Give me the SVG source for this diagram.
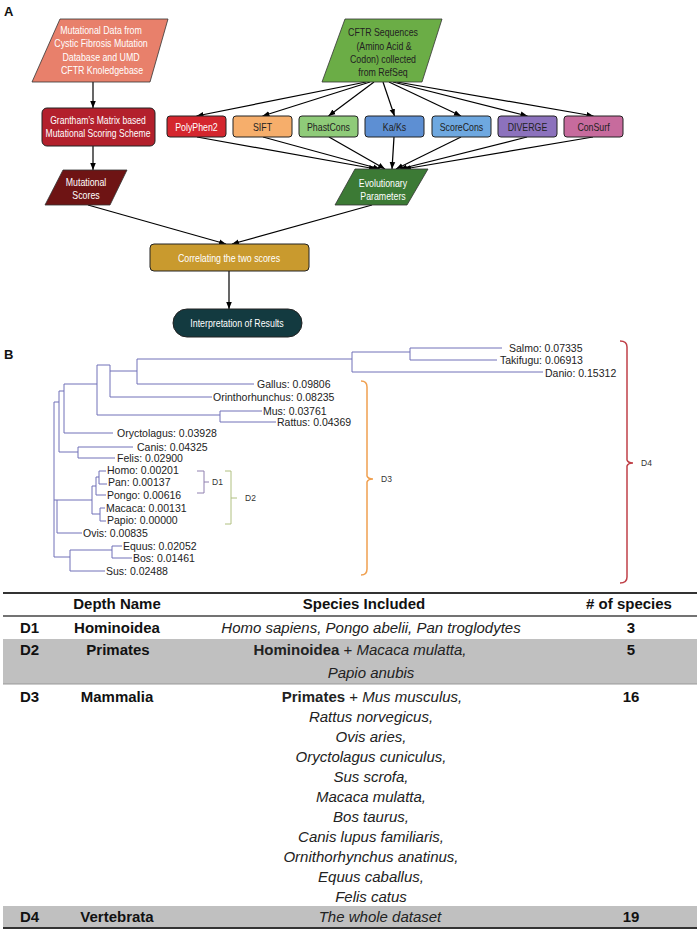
<svg xmlns="http://www.w3.org/2000/svg" width="697" height="935" viewBox="0 0 697 935">
<defs>
<marker id="ah" viewBox="0 0 10 10" refX="10" refY="5" markerWidth="7" markerHeight="7" orient="auto" markerUnits="userSpaceOnUse"><path d="M0,1 L10,5 L0,9 z" fill="#000"/></marker>
</defs>
<style>
.fc{font-family:"Liberation Sans",Arial,sans-serif;font-size:11px;text-anchor:middle}
.w{fill:#fff}
.k{fill:#222}
.shp{stroke:#333;stroke-width:0.8}
.box{stroke:#222;stroke-width:1}
.ar{stroke:#000;stroke-width:1.2;fill:none;marker-end:url(#ah)}
.tr{stroke:#7070B8;stroke-width:1;fill:none}
.lf{font-family:"Liberation Sans",Arial,sans-serif;font-size:10.5px;fill:#222}
.dl{font-family:"Liberation Sans",Arial,sans-serif;font-size:8.5px;fill:#333}
.lab{font-family:"Liberation Sans",Arial,sans-serif;font-size:13px;font-weight:bold;fill:#111}
.tb{font-family:"Liberation Sans",Arial,sans-serif;font-size:15px;font-weight:bold;fill:#111}
.ti{font-family:"Liberation Sans",Arial,sans-serif;font-size:15px;font-style:italic;fill:#222}
.c{text-anchor:middle}
</style>
<rect width="697" height="935" fill="#fff"/>
<text class="lab" x="4" y="16">A</text>
<text class="lab" x="4" y="359">B</text>

<g id="connectors">
<line class="ar" x1="93" y1="82" x2="93" y2="108"/>
<line class="ar" x1="93" y1="146" x2="93" y2="170"/>
<line class="ar" x1="366" y1="82" x2="196.5" y2="116"/>
<line class="ar" x1="370" y1="82" x2="262.5" y2="116"/>
<line class="ar" x1="374" y1="82" x2="328.5" y2="116"/>
<line class="ar" x1="383" y1="82" x2="394.5" y2="116"/>
<line class="ar" x1="389" y1="82" x2="461" y2="116"/>
<line class="ar" x1="393" y1="82" x2="527.5" y2="116"/>
<line class="ar" x1="397" y1="82" x2="593.5" y2="116"/>
<line class="ar" x1="197" y1="137" x2="376" y2="169"/>
<line class="ar" x1="263" y1="137" x2="380" y2="169"/>
<line class="ar" x1="329" y1="137" x2="385" y2="169"/>
<line class="ar" x1="394" y1="137" x2="392" y2="169"/>
<line class="ar" x1="461" y1="137" x2="396" y2="169"/>
<line class="ar" x1="527" y1="137" x2="400" y2="169"/>
<line class="ar" x1="593" y1="137" x2="404" y2="169"/>
<line class="ar" x1="88" y1="205" x2="226" y2="244"/>
<line class="ar" x1="372" y1="205" x2="232" y2="244"/>
<line class="ar" x1="229" y1="271" x2="229" y2="309"/>
</g>

<g id="n-mutdata">
<polygon class="shp" points="60,19 168,19 150,82 32,82" fill="#E8806B"/>
<text class="fc w" transform="matrix(0.8,0,0,1,101,34)">Mutational Data from</text>
<text class="fc w" transform="matrix(0.8,0,0,1,101,47)">Cystic Fibrosis Mutation</text>
<text class="fc w" transform="matrix(0.8,0,0,1,101,61)">Database and UMD</text>
<text class="fc w" transform="matrix(0.8,0,0,1,102,74)">CFTR Knoledgebase</text>
</g>
<g id="n-grantham">
<rect class="box" x="42" y="108" width="113" height="38" rx="5" fill="#B3202C"/>
<text class="fc w" transform="matrix(0.78,0,0,1,98,124)">Grantham’s Matrix based</text>
<text class="fc w" transform="matrix(0.78,0,0,1,98,137)">Mutational Scoring Scheme</text>
</g>
<g id="n-mutscores">
<polygon class="shp" points="63,170 127,170 110,205 45,205" fill="#6E1414"/>
<text class="fc w" transform="matrix(0.8,0,0,1,86,186)">Mutational</text>
<text class="fc w" transform="matrix(0.8,0,0,1,86,199)">Scores</text>
</g>
<g id="n-cftr">
<polygon class="shp" points="345,19 442,19 422,82 322,82" fill="#6BAD46"/>
<text class="fc k" transform="matrix(0.8,0,0,1,383,36)">CFTR  Sequences</text>
<text class="fc k" transform="matrix(0.8,0,0,1,384,50)">(Amino Acid &amp;</text>
<text class="fc k" transform="matrix(0.8,0,0,1,383,63)">Codon) collected</text>
<text class="fc k" transform="matrix(0.8,0,0,1,383,76)">from RefSeq</text>
</g>
<g id="n-polyphen2"><rect class="box" x="167" y="116" width="59" height="21" rx="3" fill="#D4262E"/><text class="fc w" transform="matrix(0.8,0,0,1,196.5,130.5)">PolyPhen2</text></g>
<g id="n-sift"><rect class="box" x="233" y="116" width="59" height="21" rx="3" fill="#F6AE6B"/><text class="fc k" transform="matrix(0.8,0,0,1,262.5,130.5)">SIFT</text></g>
<g id="n-phastcons"><rect class="box" x="299" y="116" width="59" height="21" rx="3" fill="#8FCB79"/><text class="fc k" transform="matrix(0.8,0,0,1,328.5,130.5)">PhastCons</text></g>
<g id="n-kaks"><rect class="box" x="365" y="116" width="59" height="21" rx="3" fill="#5D8FD3"/><text class="fc k" transform="matrix(0.8,0,0,1,394.5,130.5)">Ka/Ks</text></g>
<g id="n-scorecons"><rect class="box" x="432" y="116" width="59" height="21" rx="3" fill="#6EA8E0"/><text class="fc k" transform="matrix(0.8,0,0,1,461.5,130.5)">ScoreCons</text></g>
<g id="n-diverge"><rect class="box" x="498" y="116" width="59" height="21" rx="3" fill="#8C72BD"/><text class="fc k" transform="matrix(0.8,0,0,1,527.5,130.5)">DIVERGE</text></g>
<g id="n-consurf"><rect class="box" x="564" y="116" width="59" height="21" rx="3" fill="#C76B9D"/><text class="fc k" transform="matrix(0.8,0,0,1,593.5,130.5)">ConSurf</text></g>
<g id="n-evo">
<polygon class="shp" points="355,169 428,169 407,205 335,205" fill="#3C7A35"/>
<text class="fc w" transform="matrix(0.8,0,0,1,383,187)">Evolutionary</text>
<text class="fc w" transform="matrix(0.8,0,0,1,383,200)">Parameters</text>
</g>
<g id="n-correlating">
<rect class="box" x="150" y="244" width="159" height="27" rx="4" fill="#C99A2E"/>
<text class="fc w" transform="matrix(0.8,0,0,1,229,262)">Correlating the two scores</text>
</g>
<g id="n-interp">
<rect class="box" x="173" y="309" width="129" height="28" rx="14" fill="#133A40"/>
<text class="fc w" transform="matrix(0.8,0,0,1,237,327)">Interpretation of Results</text>
</g>

<g id="tree">
<path class="tr" d="M54,402 V557 M54,402 H59 M59,391 V452 M59,452 H78 M78,447 V458 M78,447 H133 M78,458 H115 M59,391 H64 M64,384 V433 M64,433 H113 M64,384 H97 M97,365 V415 M97,415 H220 M220,411 V422 M220,411 H262 M220,422 H276 M97,365 H110 M110,365 V397 M110,397 H212 M110,371 H137 M137,359 V384 M137,384 H254 M137,359 H352 M352,352 V372 M352,372 H543 M352,352 H410 M410,348 V360 M410,348 H502 M410,360 H497"/>
<path class="tr" d="M54,500 H92 M57,500 V533 M57,533 H82 M92,486 V514 M92,486 H96 M96,477 V495 M96,495 H106 M96,477 H99 M99,471 V484 M99,471 H106 M99,484 H107 M92,514 H100 M100,508 V521 M100,508 H105 M100,521 H106 M54,557 H70 M70,550 V571 M70,571 H105 M70,550 H112 M112,546 V558 M112,546 H122 M112,558 H132"/>
<text class="lf" x="509" y="352">Salmo: 0.07335</text>
<text class="lf" x="500" y="364">Takifugu: 0.06913</text>
<text class="lf" x="545" y="377">Danio: 0.15312</text>
<text class="lf" x="257" y="388">Gallus: 0.09806</text>
<text class="lf" x="213" y="401">Orinthorhunchus: 0.08235</text>
<text class="lf" x="263" y="415">Mus: 0.03761</text>
<text class="lf" x="277" y="426">Rattus: 0.04369</text>
<text class="lf" x="117" y="437">Oryctolagus: 0.03928</text>
<text class="lf" x="137" y="451">Canis: 0.04325</text>
<text class="lf" x="117" y="462">Felis: 0.02900</text>
<text class="lf" x="107" y="474">Homo: 0.00201</text>
<text class="lf" x="108" y="486">Pan: 0.00137</text>
<text class="lf" x="107" y="499">Pongo: 0.00616</text>
<text class="lf" x="106" y="512">Macaca: 0.00131</text>
<text class="lf" x="107" y="524">Papio: 0.00000</text>
<text class="lf" x="83" y="537">Ovis: 0.00835</text>
<text class="lf" x="123" y="550">Equus: 0.02052</text>
<text class="lf" x="133" y="562">Bos: 0.01461</text>
<text class="lf" x="106" y="575">Sus: 0.02488</text>
</g>

<g id="brackets">
<path d="M197,471 H204 V493 H197 M204,482 H209" stroke="#9080B0" stroke-width="1" fill="none"/>
<text class="dl" x="212" y="485">D1</text>
<path d="M225,471 H231 V524 H225 M231,498 H237" stroke="#B0C080" stroke-width="1" fill="none"/>
<text class="dl" x="245" y="501">D2</text>
<path d="M361,381 Q367,381 367,387 V476 Q368,479 373,479 Q368,479 367,482 V569 Q367,575 361,575" stroke="#F0A050" stroke-width="1.5" fill="none"/>
<text class="dl" x="381" y="482">D3</text>
<path d="M620,341 Q627,341 627,347 V460 Q628,463 633,463 Q628,463 627,466 V577 Q627,583 620,583" stroke="#C04048" stroke-width="1.5" fill="none"/>
<text class="dl" x="641" y="466">D4</text>
</g>

<g id="table">
<rect x="3" y="639" width="694" height="45" fill="#C0C0C0"/>
<rect x="3" y="906" width="694" height="21" fill="#C0C0C0"/>
<line x1="3" y1="593" x2="697" y2="593" stroke="#333" stroke-width="2"/>
<line x1="3" y1="616" x2="697" y2="616" stroke="#444" stroke-width="1.5"/>
<line x1="3" y1="684" x2="697" y2="684" stroke="#999" stroke-width="1"/>
<line x1="3" y1="928" x2="697" y2="928" stroke="#333" stroke-width="2"/>
<text class="tb c" x="117" y="609">Depth Name</text>
<text class="tb c" x="364" y="609">Species Included</text>
<text class="tb c" x="629" y="609"># of species</text>

<text class="tb" x="20" y="633">D1</text>
<text class="tb c" x="117" y="633">Hominoidea</text>
<text class="ti c" x="371" y="633">Homo sapiens, Pongo abelii,  Pan troglodytes</text>
<text class="tb c" x="631" y="633">3</text>

<text class="tb" x="20" y="655">D2</text>
<text class="tb c" x="118" y="655">Primates</text>
<text class="ti c" x="360" y="655"><tspan font-weight="bold" font-style="normal">Hominoidea</tspan><tspan font-style="normal"> + </tspan>Macaca mulatta,</text>
<text class="ti c" x="371" y="678">Papio anubis</text>
<text class="tb c" x="631" y="655">5</text>

<text class="tb" x="20" y="702">D3</text>
<text class="tb c" x="117" y="702">Mammalia</text>
<text class="ti c" x="372" y="702"><tspan font-weight="bold" font-style="normal">Primates</tspan><tspan font-style="normal"> + </tspan>Mus musculus,</text>
<text class="tb c" x="631" y="702">16</text>
<text class="ti c" x="371" y="722">Rattus norvegicus,</text>
<text class="ti c" x="371" y="742">Ovis aries,</text>
<text class="ti c" x="371" y="762">Oryctolagus cuniculus,</text>
<text class="ti c" x="371" y="782">Sus scrofa,</text>
<text class="ti c" x="371" y="802">Macaca mulatta,</text>
<text class="ti c" x="371" y="822">Bos taurus,</text>
<text class="ti c" x="371" y="842">Canis lupus familiaris,</text>
<text class="ti c" x="371" y="862">Ornithorhynchus anatinus,</text>
<text class="ti c" x="371" y="882">Equus caballus,</text>
<text class="ti c" x="371" y="902">Felis catus</text>

<text class="tb" x="20" y="922">D4</text>
<text class="tb c" x="117" y="922">Vertebrata</text>
<text class="ti c" x="380" y="922">The whole dataset</text>
<text class="tb c" x="631" y="922">19</text>
</g>
</svg>
